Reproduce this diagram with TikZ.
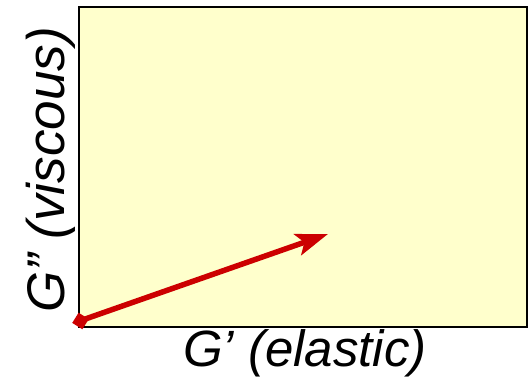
\documentclass[tikz,border=0pt]{standalone}
\usepackage{fontspec}
\setmainfont{Liberation Sans}
\usetikzlibrary{arrows.meta}
\definecolor{plotbg}{HTML}{FFFFCC}
\definecolor{vecred}{HTML}{CC0000}
\begin{document}
\begin{tikzpicture}[x=1pt,y=-1pt,
  frame/.style={draw=black,line width=2pt,fill=plotbg},
  vec/.style={draw=vecred,line width=5.5pt,-{Stealth[length=32pt,width=22pt,inset=7pt]}},
  marker/.style={fill=vecred,draw=none,minimum size=12pt,inner sep=0pt,rotate=-32},
  lbl/.style={inner sep=0pt}]
\useasboundingbox (0,0) rectangle (530,385);
\draw[frame] (79,7) rectangle (527,327);
\coordinate (origin) at (81,320.5);
\coordinate (tip) at (328,234);
\draw[vec] (origin) -- (tip);
\node[marker] (start) at (80.5,321) {};
\node[lbl,anchor=base,font=\itshape\fontsize{51}{51}\selectfont] (xlab) at (305,366) {G’ (elastic)};
\node[lbl,anchor=base,rotate=90,font=\itshape\fontsize{53}{53}\selectfont] (ylab) at (64,170) {G” (viscous)};
\end{tikzpicture}
\end{document}
